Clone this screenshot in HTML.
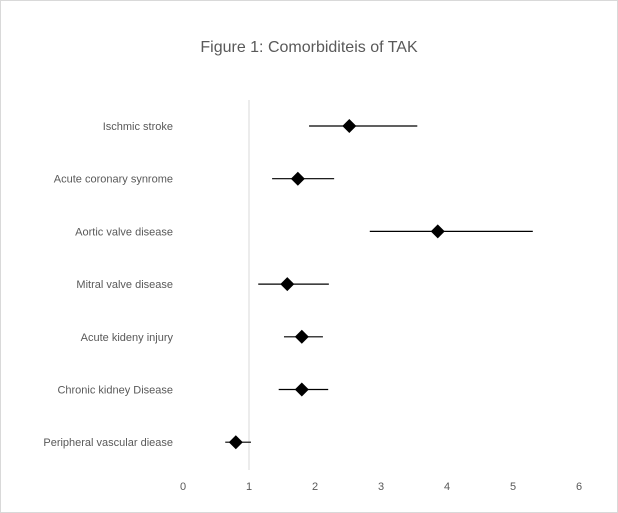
<!DOCTYPE html>
<html><head><meta charset="utf-8"><style>
html,body{margin:0;padding:0;background:#fff}
svg{display:block;font-family:"Liberation Sans",sans-serif}
</style></head><body>
<svg id="chart" width="618" height="513">
<rect x="0.5" y="0.5" width="617" height="512" fill="#fff" stroke="#d9d9d9"/>
<text x="309" y="52" text-anchor="middle" font-size="16" fill="#595959">Figure 1: Comorbiditeis of TAK</text>
<g id="plot"></g>
</svg>
<script>
const categories=["Ischmic stroke","Acute coronary synrome","Aortic valve disease","Mitral valve disease","Acute kideny injury","Chronic kidney Disease","Peripheral vascular diease"];
const estimates=[2.52,1.74,3.86,1.58,1.80,1.80,0.80];
const lower=[1.91,1.35,2.83,1.14,1.53,1.45,0.64];
const upper=[3.55,2.29,5.30,2.21,2.12,2.20,1.03];
const ticks=[0,1,2,3,4,5,6];
const NS="http://www.w3.org/2000/svg";
const x=v=>183+v*66;
const y=i=>126+i*52.7;
const g=document.getElementById('plot');
function mk(t,a){const e=document.createElementNS(NS,t);for(const k in a)e.setAttribute(k,a[k]);g.appendChild(e);return e;}
const ref=mk('line',{x1:x(1),x2:x(1),y1:100,y2:470,stroke:'#d9d9d9','stroke-width':1});


ticks.forEach(t=>{const e=mk('text',{x:x(t),y:490,'text-anchor':'middle','font-size':11,fill:'#595959'});e.textContent=t;

});
categories.forEach((c,i)=>{
const l=mk('text',{x:173,y:y(i)+4,'text-anchor':'end','font-size':11,fill:'#595959'});l.textContent=c;


const ci=mk('line',{x1:x(lower[i]),x2:x(upper[i]),y1:y(i),y2:y(i),stroke:'#000','stroke-width':1.2});


const cx=x(estimates[i]),cy=y(i),s=7;
const d=mk('polygon',{points:`${cx},${cy-s} ${cx+s},${cy} ${cx},${cy+s} ${cx-s},${cy}`,fill:'#000'});


});
</script>
</body></html>
